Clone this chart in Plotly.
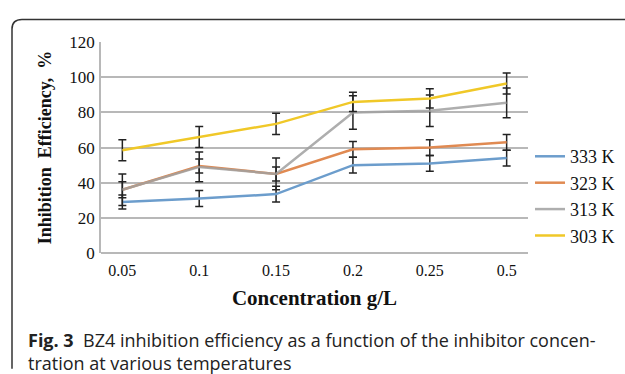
import plotly.graph_objects as go

categories = ["0.05", "0.1", "0.15", "0.2", "0.25", "0.5"]
series_names = ["333 K", "323 K", "313 K", "303 K"]
v333 = [29, 31, 33.5, 50, 51, 54]
v323 = [36, 49.5, 45, 59, 60, 63]
v313 = [36, 49, 45, 80, 81, 85.5]
v303 = [58.5, 66, 73.5, 86, 88, 96.5]
e333 = [4, 4.5, 4.5, 4.5, 4.5, 4.5]
e323 = [4.5, 4, 4, 4.5, 4.5, 4.5]
e313 = [9, 8.5, 9, 9.5, 9, 8.5]
e303 = [6, 6, 6, 5.5, 5.5, 6]
colors = ["#6c9dcc", "#e08a52", "rgba(160,160,160,0.85)", "#f0c828"]

W, H = 625, 374
fig = go.Figure()
for name, vals, errs, col in zip(series_names, [v333, v323, v313, v303],
                                  [e333, e323, e313, e303], colors):
    fig.add_trace(go.Scatter(
        x=categories, y=vals, name=name, mode="lines",
        line=dict(color=col, width=2.5),
        error_y=dict(type="data", array=errs, visible=True, color="#222222",
                     thickness=1.5, width=4),
    ))

serif = "Liberation Serif, Times New Roman, serif"
fig.update_layout(
    width=W, height=H,
    margin=dict(l=0, r=0, t=0, b=0),
    paper_bgcolor="white", plot_bgcolor="white",
    showlegend=True,
    legend=dict(x=530 / W, y=1 - 136 / H, xanchor="left", yanchor="top",
                font=dict(family=serif, size=18, color="#111"),
                itemwidth=30, tracegroupgap=0, bgcolor="rgba(0,0,0,0)"),
    xaxis=dict(domain=[101 / W, 528 / W], type="category",
               tickfont=dict(family=serif, size=16, color="#111"),
               showgrid=False, showline=False, zeroline=False, ticks="",
               ticklabelstandoff=6,
               title=dict(text="<b>Concentration g/L</b>",
                          font=dict(family=serif, size=21, color="#111"),
                          standoff=12)),
    yaxis=dict(domain=[1 - 257 / H, 1 - 35 / H], range=[0, 120],
               tickvals=[0, 20, 40, 60, 80, 100, 120],
               tickfont=dict(family=serif, size=17, color="#111"),
               showgrid=True, gridcolor="#b8b8b8", gridwidth=1.5,
               zeroline=True, zerolinecolor="#b8b8b8", zerolinewidth=1.5,
               showline=True, linecolor="#b8b8b8", linewidth=1.5,
               ticks="", ticklabelstandoff=1,
               title=dict(text="<b>Inhibition  Efficiency,  %</b>",
                          font=dict(family=serif, size=18, color="#111"),
                          standoff=13)),
)

# figure frame with rounded top-left corner
x0, y0, r = 12, 11, 10
def px(x): return x / W
def py(y): return 1 - y / H
path = (f"M {px(x0)} {py(H + 5)} L {px(x0)} {py(y0 + r)} "
        f"Q {px(x0)} {py(y0)} {px(x0 + r)} {py(y0)} L {px(W + 5)} {py(y0)}")
fig.add_shape(type="path", path=path, xref="paper", yref="paper",
              line=dict(color="#333333", width=1.5))

sans = "Open Sans, Noto Sans, sans-serif"
fig.add_annotation(x=px(26), y=py(334), xref="paper", yref="paper",
                   xanchor="left", yanchor="top", align="left", showarrow=False,
                   text="<b>Fig. 3</b>  BZ4 inhibition efficiency as a function of the inhibitor concen-"
                        "<br>tration at various temperatures",
                   font=dict(family=sans, size=18, color="#222"))

fig.write_html("out.html")
